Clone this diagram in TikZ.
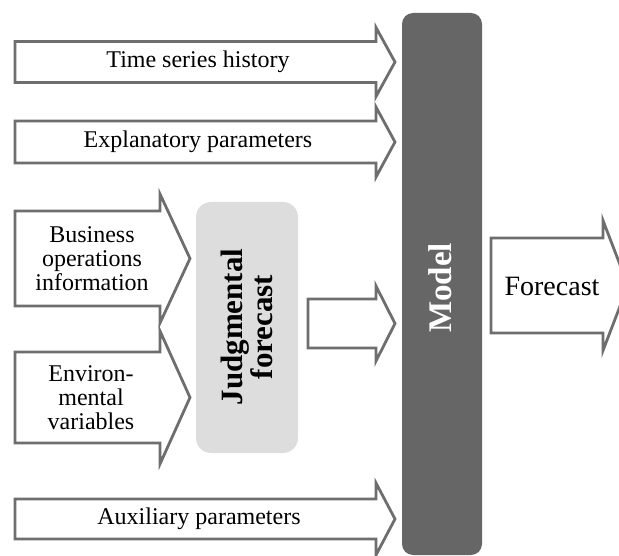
\documentclass[tikz,border=0pt]{standalone}
\usepackage{fontspec}
\setmainfont{Liberation Serif}
\definecolor{edgegray}{HTML}{6E6E6E}
\definecolor{modelgray}{HTML}{666666}
\definecolor{judgegray}{HTML}{DDDDDD}
% block arrow: #1 left x, #2 head base x, #3 tip x, #4 centre y, #5 body half-height, #6 head half-height
\newcommand{\blockarrow}[6]{%
  \draw[arrowline] (#1,#4-#5) -- (#2,#4-#5) -- (#2,#4-#6) -- (#3,#4)
    -- (#2,#4+#6) -- (#2,#4+#5) -- (#1,#4+#5) -- cycle;}
\tikzset{
  arrowline/.style={draw=edgegray, line width=2.8pt, fill=white, line join=miter, miter limit=10},
  lbl/.style={font=\fontsize{24}{24}\selectfont, align=center, inner sep=0pt, text=black},
  biglbl/.style={font=\fontsize{28}{28}\selectfont, align=center, inner sep=0pt, text=black},
}
\begin{document}
\begin{tikzpicture}[x=1pt, y=-1pt]
  \useasboundingbox (0,0) rectangle (619,556);
  \clip (0,0) rectangle (619,556);

  % central model bar
  \node[draw=none, fill=modelgray, rounded corners=11pt, minimum width=80pt,
        minimum height=542pt, inner sep=0pt] (model) at (442,284) {};
  \node[rotate=90, text=white, font=\fontsize{33}{33}\selectfont\bfseries, inner sep=0pt]
        (modeltxt) at (440,288) {Model};

  % judgmental forecast box
  \node[fill=judgegray, rounded corners=15pt, minimum width=102pt,
        minimum height=251pt, inner sep=0pt] (judge) at (247,327.5) {};
  \node[rotate=90, align=center, font=\fontsize{31}{30}\selectfont\bfseries, inner sep=0pt]
        (judgetxt) at (247,327) {Judgmental\\forecast};

  % inputs to the model
  \blockarrow{15}{376}{395}{62}{20.5}{34.5}
  \node[lbl] (hist) at (198,62) {Time series history};

  \blockarrow{15}{376}{395}{142}{21}{35}
  \node[lbl] (expl) at (198,142) {Explanatory parameters};

  \blockarrow{15}{376}{395}{519}{20}{36}
  \node[lbl] (aux) at (199,519) {Auxiliary parameters};

  % inputs to the judgmental forecast
  \blockarrow{15}{160}{190}{258.5}{47.5}{64.5}
  \node[lbl] (bus) at (92,259) {Business\\operations\\information};

  \blockarrow{15}{160}{190}{397.5}{45.5}{66.5}
  \node[lbl] (env) at (91,398) {Environ-\\mental\\variables};

  % judgmental forecast into the model
  \blockarrow{308}{376}{395}{323.5}{24.5}{37.5}

  % model output
  \blockarrow{491}{603}{628}{285.5}{47.5}{65}
  \node[biglbl] (fc) at (552,286) {Forecast};
\end{tikzpicture}
\end{document}
